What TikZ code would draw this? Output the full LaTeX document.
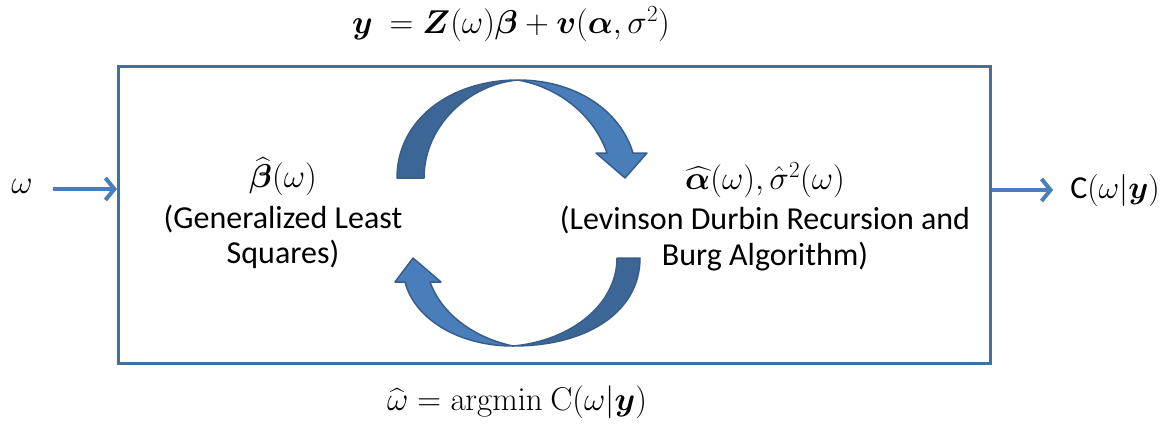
\RequirePackage{fix-cm}
\documentclass[tikz,border=0pt]{standalone}
\usepackage{amsmath}
\usepackage{bm}
\usepackage[no-math]{fontspec}
\setmainfont{Carlito}
\usetikzlibrary{arrows.meta}
\definecolor{boxblue}{HTML}{41719C}
\definecolor{lightblue}{HTML}{4A7EBB}
\definecolor{darkblue}{HTML}{3C6696}
\definecolor{edgeblue}{HTML}{385D8A}
\tikzset{
  lbl/.style={font=\fontsize{32}{37}\selectfont, inner sep=1pt},
  mlbl/.style={font=\fontsize{33}{38}\selectfont, inner sep=1pt},
  flow/.style={draw=lightblue, line width=4pt, -{Straight Barb[length=9pt,width=22pt,line width=4pt]}},
  frontpart/.style={fill=lightblue, draw=edgeblue, line width=1.5pt, line join=round},
  backpart/.style={fill=darkblue, draw=edgeblue, line width=1.5pt, line join=round},
}
\begin{document}
\begin{tikzpicture}[x=1pt,y=-1pt]
\useasboundingbox (0,0) rectangle (1174,429);
% main box
\node[draw=boxblue, line width=3pt, minimum width=872pt, minimum height=297pt, anchor=north west, inner sep=0pt] (box) at (117,65) {};
% equations
\node[mlbl] (model) at (511,24) {$\bm{y}\ =\bm{Z}(\omega)\bm{\beta}+\bm{v}(\bm{\alpha},\sigma^2)$};
\node[mlbl] (argmin) at (517,402) {$\widehat{\omega}=\mathrm{argmin}\ \mathrm{C}(\omega|\bm{y})$};
% input / output
\node[mlbl] (omegain) at (22,186) {$\omega$};
\coordinate (instart) at (53,189);
\draw[flow] (instart) -- (instart -| box.west);
\node[lbl] (cout) at (1115,190) {C$(\omega|\bm{y})$};
\draw[flow] (box.east |- cout) -- ([xshift=-16pt]cout.west);
% left text
\node[mlbl] (betahat) at (283,177) {$\widehat{\bm{\beta}}(\omega)$};
\node[lbl] (gls1) at (283,219) {(Generalized Least};
\node[lbl] (gls2) at (283,254) {Squares)};
% right text
\node[mlbl] (alphahat) at (765,180) {$\widehat{\bm{\alpha}}(\omega),\hat{\sigma}^2(\omega)$};
\node[lbl] (lev1) at (765,220) {(Levinson Durbin Recursion and};
\node[lbl] (lev2) at (765,257) {Burg Algorithm)};
% top curved arrow
\path[backpart] (397,178) .. controls (397,120) and (450,80) .. (518,80)
  .. controls (470,84) and (424,125) .. (424,178) -- cycle;
\path[frontpart] (518,80) .. controls (575,80) and (620,110) .. (633,153)
  -- (647,153) -- (625,178) -- (596,153) -- (607,153)
  .. controls (595,118) and (562,88) .. (518,80) -- cycle;
% bottom curved arrow
\path[backpart] (640,258) .. controls (640,310) and (590,346) .. (513,346)
  .. controls (570,341) and (617,305) .. (617,258) -- cycle;
\path[frontpart] (513,346) .. controls (460,346) and (415,320) .. (405,282)
  -- (395,282) -- (413,258) -- (441,282) -- (430,282)
  .. controls (442,315) and (475,338) .. (513,346) -- cycle;
\end{tikzpicture}
\end{document}
